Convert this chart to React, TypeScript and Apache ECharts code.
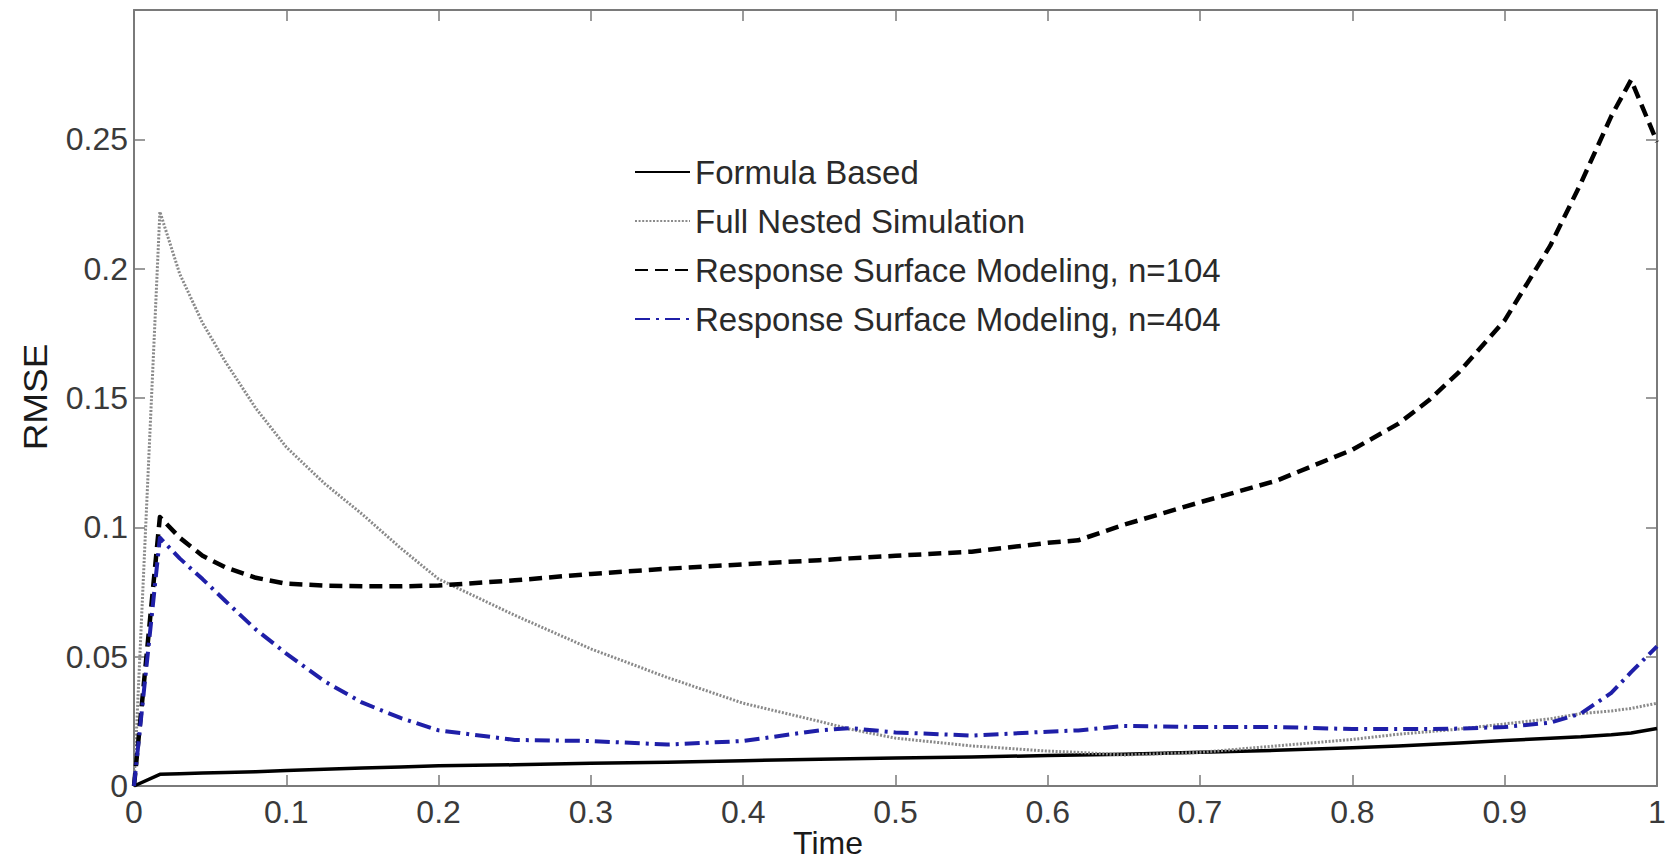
import React, { useEffect, useRef } from "react";
import * as echarts from "echarts";

// Time grid shared by all series
const time = [
  0, 0.017, 0.03, 0.045, 0.06, 0.08, 0.1, 0.125, 0.15, 0.175, 0.2, 0.25, 0.3, 0.35,
  0.4, 0.45, 0.47, 0.5, 0.55, 0.6, 0.62, 0.65, 0.7, 0.75, 0.8, 0.83, 0.85, 0.87,
  0.9, 0.93, 0.95, 0.97, 0.983, 1.0,
];

const formulaBased = [
  0, 0.0045, 0.0047, 0.005, 0.0052, 0.0055, 0.006, 0.0065, 0.007, 0.0073, 0.0078,
  0.0082, 0.0088, 0.0092, 0.0098, 0.0103, 0.0105, 0.0108, 0.0112, 0.0118, 0.012,
  0.0123, 0.013, 0.0138, 0.0148, 0.0155, 0.016, 0.0166, 0.0176, 0.0185, 0.019,
  0.0198, 0.0205, 0.0222,
];

const fullNested = [
  0, 0.222, 0.198, 0.179, 0.164, 0.146, 0.131, 0.117, 0.105, 0.092, 0.08, 0.066,
  0.053, 0.042, 0.032, 0.025, 0.022, 0.0185, 0.0155, 0.0135, 0.013, 0.012, 0.013,
  0.0155, 0.018, 0.02, 0.021, 0.022, 0.024, 0.026, 0.028, 0.029, 0.03, 0.032,
];

const rsm104 = [
  0, 0.104, 0.096, 0.089, 0.0845, 0.0805, 0.0782, 0.0775, 0.0772, 0.0772, 0.0775,
  0.0795, 0.082, 0.084, 0.0857, 0.0873, 0.088, 0.089, 0.0906, 0.094, 0.095, 0.101,
  0.1097, 0.118, 0.13, 0.14, 0.149, 0.16, 0.18, 0.209, 0.233, 0.259, 0.273, 0.249,
];

const rsm404 = [
  0, 0.096, 0.088, 0.08, 0.0715, 0.0605, 0.0512, 0.0405, 0.0322, 0.0263, 0.0215,
  0.0178, 0.0174, 0.016, 0.0174, 0.0215, 0.0224, 0.0207, 0.0195, 0.021, 0.0215,
  0.0232, 0.0228, 0.0228, 0.022, 0.022, 0.022, 0.0222, 0.0228, 0.0245, 0.028,
  0.036, 0.044, 0.054,
];

const seriesNames = [
  "Formula Based",
  "Full Nested Simulation",
  "Response Surface Modeling, n=104",
  "Response Surface Modeling, n=404",
];

const xAxisTitle = "Time";
const yAxisTitle = "RMSE";

export default function App() {
  const ref = useRef<HTMLDivElement>(null);

  useEffect(() => {
    if (!ref.current) return;
    const chart = echarts.init(ref.current, null, { renderer: "svg" });
    const font = "'Liberation Sans', Arial, Helvetica, sans-serif";
    const pair = (ys: number[]) => time.map((t, i) => [t, ys[i]]);
    const frame = { onZero: false, lineStyle: { color: "#7a7a7a", width: 2 } };
    const tick = { inside: true, length: 11, lineStyle: { color: "#7a7a7a", width: 1.5 } };
    const common = { showSymbol: false, symbol: "none", smooth: false };

    chart.setOption({
      animation: false,
      backgroundColor: "#ffffff",
      grid: { left: 134, right: 18, top: 10, bottom: 77, containLabel: false },
      xAxis: [
        {
          type: "value",
          min: 0,
          max: 1,
          interval: 0.1,
          position: "bottom",
          axisLine: { show: true, ...frame },
          axisTick: tick,
          axisLabel: { color: "#3a3a3a", fontSize: 32, fontFamily: font, margin: 10 },
          splitLine: { show: false },
        },
        {
          type: "value",
          min: 0,
          max: 1,
          interval: 0.1,
          position: "top",
          axisLine: { show: true, ...frame },
          axisTick: tick,
          axisLabel: { show: false },
          splitLine: { show: false },
        },
      ],
      yAxis: [
        {
          type: "value",
          min: 0,
          max: 0.3,
          interval: 0.05,
          position: "left",
          axisLine: { show: true, ...frame },
          axisTick: tick,
          axisLabel: {
            color: "#3a3a3a",
            fontSize: 32,
            fontFamily: font,
            margin: 6,
            showMaxLabel: false,
          },
          splitLine: { show: false },
        },
        {
          type: "value",
          min: 0,
          max: 0.3,
          interval: 0.05,
          position: "right",
          axisLine: { show: true, ...frame },
          axisTick: tick,
          axisLabel: { show: false },
          splitLine: { show: false },
        },
      ],
      legend: {
        orient: "vertical",
        left: 629,
        top: 149,
        itemWidth: 55,
        itemHeight: 12,
        itemGap: 13,
        itemStyle: { opacity: 0 },
        textStyle: { fontSize: 33, fontFamily: font, color: "#2a2a2a", lineHeight: 36 },
        data: seriesNames,
      },
      graphic: [
        {
          type: "text",
          x: 35,
          y: 397,
          rotation: Math.PI / 2,
          scaleX: 1.12,
          style: {
            text: yAxisTitle,
            fontSize: 33,
            fontFamily: font,
            fill: "#1a1a1a",
            align: "center",
            verticalAlign: "middle",
          },
        },
        {
          type: "text",
          x: 828,
          y: 843,
          style: {
            text: xAxisTitle,
            fontSize: 32,
            fontFamily: font,
            fill: "#1a1a1a",
            align: "center",
            verticalAlign: "middle",
          },
        },
      ],
      series: [
        {
          name: seriesNames[0],
          type: "line",
          data: pair(formulaBased),
          ...common,
          lineStyle: { color: "#000000", width: 3.5, type: "solid", join: "round" },
          itemStyle: { color: "#000000" },
        },
        {
          name: seriesNames[1],
          type: "line",
          data: pair(fullNested),
          ...common,
          lineStyle: { color: "#8a8a8a", width: 3, type: [2, 1.6] },
          itemStyle: { color: "#8a8a8a" },
        },
        {
          name: seriesNames[2],
          type: "line",
          data: pair(rsm104),
          ...common,
          lineStyle: { color: "#000000", width: 4.5, type: [13, 7], join: "round" },
          itemStyle: { color: "#000000" },
        },
        {
          name: seriesNames[3],
          type: "line",
          data: pair(rsm404),
          ...common,
          lineStyle: { color: "#1f1fa8", width: 4, type: [15, 6, 3, 6], join: "round" },
          itemStyle: { color: "#1f1fa8" },
        },
      ],
    });

    return () => chart.dispose();
  }, []);

  return (
    <div
      ref={ref}
      style={{ position: "fixed", left: 0, top: 0, width: 1675, height: 863, background: "#fff" }}
    />
  );
}
